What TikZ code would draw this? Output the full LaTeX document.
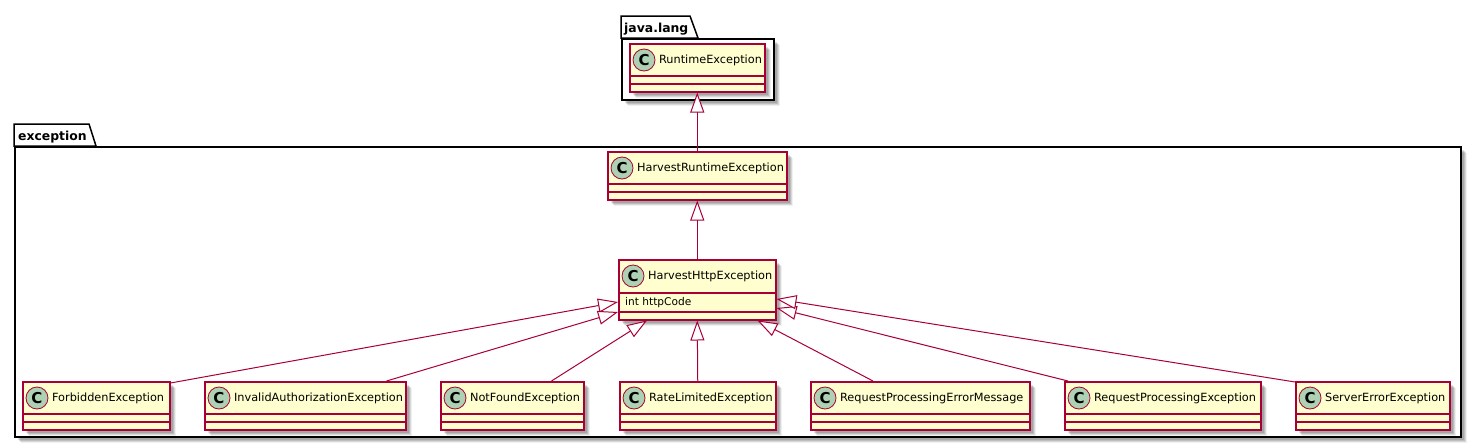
\documentclass[tikz,border=0pt]{standalone}
\usepackage{fontspec}
\setmainfont{DejaVu Sans}
\usetikzlibrary{positioning,shadows,arrows.meta}
\definecolor{umlred}{HTML}{A80036}
\definecolor{umlfill}{HTML}{FEFECE}
\definecolor{umlmark}{HTML}{ADD1B2}
\tikzset{
    softshadow/.style={drop shadow={shadow xshift=6pt,shadow yshift=-6pt,fill=black,opacity=0.06},
        drop shadow={shadow xshift=5pt,shadow yshift=-5pt,fill=black,opacity=0.1},
        drop shadow={shadow xshift=4pt,shadow yshift=-4pt,fill=black,opacity=0.12},
        drop shadow={shadow xshift=3pt,shadow yshift=-3pt,fill=black,opacity=0.12}},
    classbox/.style={draw=umlred,fill=umlfill,rectangle,line width=1.5pt,inner sep=0pt,anchor=north west,
        softshadow,minimum width=#1,minimum height=48pt,
        path picture={\draw[umlred,line width=1.6pt] ([yshift=-32.5pt]path picture bounding box.north west) -- ([yshift=-32.5pt]path picture bounding box.north east);
            \draw[umlred,line width=1.6pt] ([yshift=-40.5pt]path picture bounding box.north west) -- ([yshift=-40.5pt]path picture bounding box.north east);}},
    fieldbox/.style={draw=umlred,fill=umlfill,rectangle,line width=1.5pt,inner sep=0pt,anchor=north west,
        softshadow,minimum width=#1,minimum height=60pt,
        path picture={\draw[umlred,line width=1.6pt] ([yshift=-33.5pt]path picture bounding box.north west) -- ([yshift=-33.5pt]path picture bounding box.north east);
            \draw[umlred,line width=1.6pt] ([yshift=-52.5pt]path picture bounding box.north west) -- ([yshift=-52.5pt]path picture bounding box.north east);}},
    classmark/.style={draw=umlred,fill=umlmark,circle,line width=0.8pt,inner sep=0pt,minimum size=22pt,
        font=\fontsize{15}{15}\selectfont\bfseries},
    classname/.style={inner sep=0pt,text height=9pt,text depth=2.5pt,font=\fontsize{11.3}{12}\selectfont},
    pkgframe/.style={draw=black,fill=white,rectangle,line width=1.5pt,inner sep=0pt,anchor=north west,
        softshadow},
    pkgname/.style={inner sep=0pt,anchor=base west,font=\fontsize{12.4}{13}\selectfont\bfseries},
    pkgtab/.style={draw=black,fill=white,line width=1.5pt,line join=miter},
    extends/.style={umlred,line width=1pt,-{Triangle[open,length=20pt,width=14pt,fill=white]}}
}
\begin{document}
\begin{tikzpicture}[x=1pt,y=-1pt]
    \useasboundingbox (0,0) rectangle (1479,447);

    % Packages
    \node[pkgframe,minimum width=152pt,minimum height=61pt] (pjava) at (621,38) {};
    \draw[pkgtab] (pjava.north west) -- ++(0,-22) -- ++(69,0) -- ++(8,22) -- cycle;
    \node[pkgname] (njava) at (624,32) {java.lang};

    \node[pkgframe,minimum width=1446pt,minimum height=290pt] (pexc) at (14,146) {};
    \draw[pkgtab] (pexc.north west) -- ++(0,-22) -- ++(75,0) -- ++(7,22) -- cycle;
    \node[pkgname] (nexc) at (18,140) {exception};

    % Classes
    \node[classbox=135pt] (re) at (629,43) {};
    \node[classmark] (mre) at ([xshift=15pt,yshift=-17pt]re.north west) {C};
    \node[classname,right=3.5pt of mre] (tre) {RuntimeException};

    \node[classbox=179pt] (hre) at (607,151) {};
    \node[classmark] (mhre) at ([xshift=15pt,yshift=-17pt]hre.north west) {C};
    \node[classname,right=3.5pt of mhre] (thre) {HarvestRuntimeException};

    \node[fieldbox=157pt] (http) at (618,259) {};
    \node[classmark] (mhttp) at ([xshift=15pt,yshift=-17pt]http.north west) {C};
    \node[classname,right=3.5pt of mhttp] (thttp) {HarvestHttpException};
    \node[classname,anchor=west,font=\fontsize{10.6}{12}\selectfont] (fhttp) at ([xshift=7pt,yshift=-43pt]http.north west) {int httpCode};

    \node[classbox=147pt] (fe) at (22,381) {};
    \node[classmark] (mfe) at ([xshift=15pt,yshift=-17pt]fe.north west) {C};
    \node[classname,right=3.5pt of mfe] (tfe) {ForbiddenException};

    \node[classbox=201pt] (ia) at (204,381) {};
    \node[classmark] (mia) at ([xshift=15pt,yshift=-17pt]ia.north west) {C};
    \node[classname,right=3.5pt of mia] (tia) {InvalidAuthorizationException};

    \node[classbox=143pt] (nf) at (440,381) {};
    \node[classmark] (mnf) at ([xshift=15pt,yshift=-17pt]nf.north west) {C};
    \node[classname,right=3.5pt of mnf] (tnf) {NotFoundException};

    \node[classbox=156pt] (rl) at (619,381) {};
    \node[classmark] (mrl) at ([xshift=15pt,yshift=-17pt]rl.north west) {C};
    \node[classname,right=3.5pt of mrl] (trl) {RateLimitedException};

    \node[classbox=219pt] (rm) at (810,381) {};
    \node[classmark] (mrm) at ([xshift=15pt,yshift=-17pt]rm.north west) {C};
    \node[classname,right=3.5pt of mrm] (trm) {RequestProcessingErrorMessage};

    \node[classbox=196pt] (rp) at (1064,381) {};
    \node[classmark] (mrp) at ([xshift=15pt,yshift=-17pt]rp.north west) {C};
    \node[classname,right=3.5pt of mrp] (trp) {RequestProcessingException};

    \node[classbox=154pt] (se) at (1295,381) {};
    \node[classmark] (mse) at ([xshift=15pt,yshift=-17pt]se.north west) {C};
    \node[classname,right=3.5pt of mse] (tse) {ServerErrorException};

    % Inheritance
    \draw[extends] (hre.north) -- (re.south);
    \draw[extends] (http.north) -- (hre.south);
    \draw[extends] ([yshift=-2pt]fe.north east) -- ([yshift=-43pt]http.north west);
    \draw[extends] ([xshift=-20pt]ia.north east) -- ([yshift=-53pt]http.north west);
    \draw[extends] ([xshift=-33pt]nf.north east) -- ([xshift=29pt]http.south west);
    \draw[extends] (rl.north) -- (http.south);
    \draw[extends] ([xshift=63pt]rm.north west) -- ([xshift=-19pt]http.south east);
    \draw[extends] ([xshift=4pt]rp.north west) -- ([yshift=-49pt]http.north east);
    \draw[extends] ([yshift=-1pt]se.north west) -- ([yshift=-40pt]http.north east);
\end{tikzpicture}
\end{document}
